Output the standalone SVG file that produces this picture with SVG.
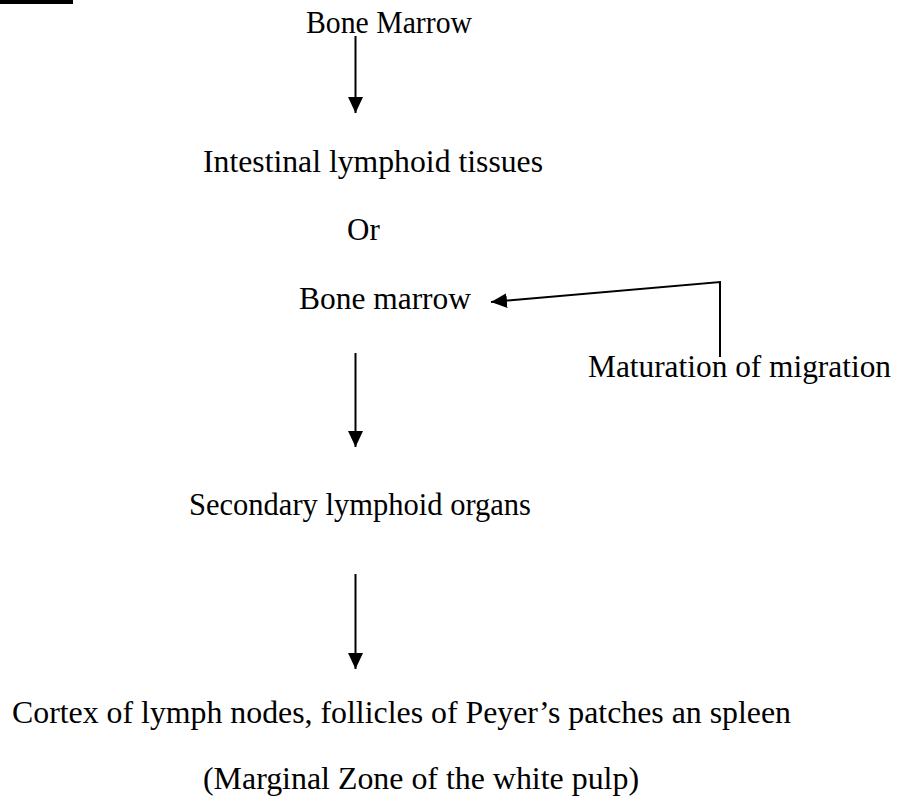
<svg xmlns="http://www.w3.org/2000/svg" width="897" height="797" viewBox="0 0 897 797">
  <style>
    .t { font-family: "Liberation Serif", "Times New Roman", serif; font-size: 31px; fill: #000; }
    .c { stroke: #000; stroke-width: 2; fill: none; }
  </style>
  <defs>
    <marker id="ah" markerUnits="userSpaceOnUse" markerWidth="16" markerHeight="15" refX="16" refY="7.5" orient="auto">
      <path d="M0,0 L16,7.5 L0,15 Z" fill="#000"/>
    </marker>
  </defs>
  <rect x="0" y="0" width="897" height="797" fill="#fff"/>
  <rect x="0" y="0" width="73" height="4" fill="#000"/>

  <g id="n1"><text class="t" x="306" y="33" textLength="166" lengthAdjust="spacingAndGlyphs">Bone Marrow</text></g>
  <g id="n2"><text class="t" x="203" y="172" textLength="340" lengthAdjust="spacingAndGlyphs">Intestinal lymphoid tissues</text></g>
  <g id="n3"><text class="t" x="347" y="240">Or</text></g>
  <g id="n4"><text class="t" x="299" y="309" textLength="172" lengthAdjust="spacingAndGlyphs">Bone marrow</text></g>
  <g id="n5"><text class="t" x="588" y="377" textLength="303" lengthAdjust="spacingAndGlyphs">Maturation of migration</text></g>
  <g id="n6"><text class="t" x="189" y="515" textLength="342" lengthAdjust="spacingAndGlyphs">Secondary lymphoid organs</text></g>
  <g id="n7"><text class="t" x="12" y="723" textLength="779" lengthAdjust="spacingAndGlyphs">Cortex of lymph nodes, follicles of Peyer’s patches an spleen</text></g>
  <g id="n8"><text class="t" x="203" y="789" textLength="436" lengthAdjust="spacingAndGlyphs">(Marginal Zone of the white pulp)</text></g>

  <g id="connectors">
    <line class="c" x1="355.5" y1="36" x2="355.5" y2="113" marker-end="url(#ah)"/>
    <line class="c" x1="355.5" y1="353" x2="355.5" y2="447" marker-end="url(#ah)"/>
    <line class="c" x1="355.5" y1="574" x2="355.5" y2="669" marker-end="url(#ah)"/>
    <polyline class="c" points="720,357 720,282 491,302" marker-end="url(#ah)"/>
  </g>
</svg>
